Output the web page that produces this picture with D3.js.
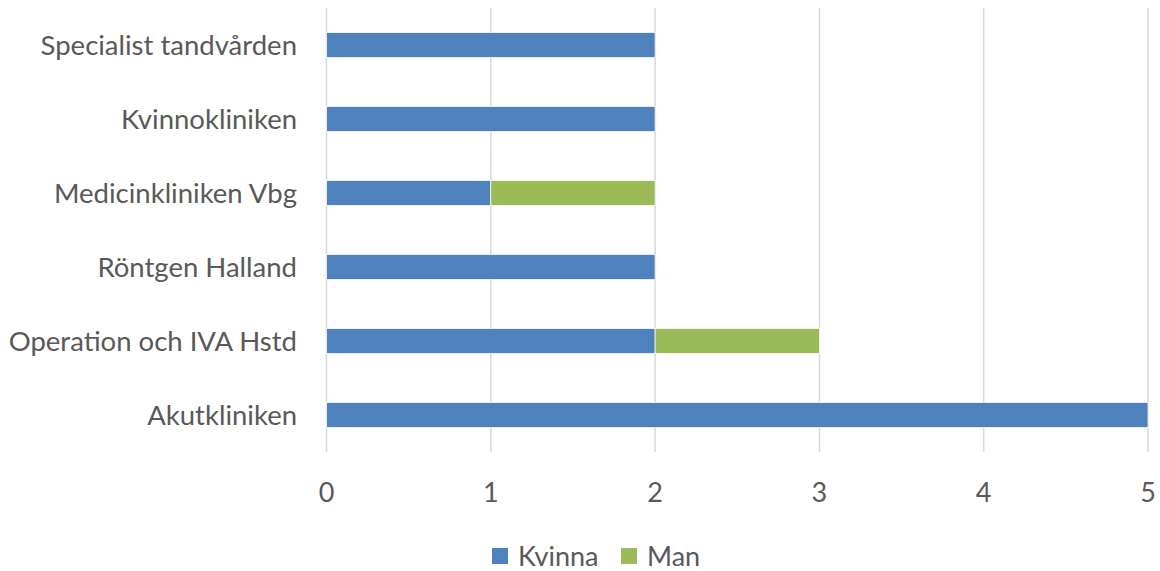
<!DOCTYPE html>
<html>
<head>
<meta charset="utf-8">
<script src="https://cdn.jsdelivr.net/npm/d3@7"></script>
<style>
  body { margin: 0; background: #fff; }
  svg text { font-family: Lato, "Open Sans", sans-serif; fill: #595959; }
</style>
</head>
<body>
<svg id="chart" width="1160" height="571"></svg>
<script>
const categories = ["Specialist tandvården", "Kvinnokliniken", "Medicinkliniken Vbg",
                    "Röntgen Halland", "Operation och IVA Hstd", "Akutkliniken"];
const kvinna = [2, 2, 1, 2, 2, 5];
const man = [0, 0, 1, 0, 1, 0];
const seriesNames = ["Kvinna", "Man"];
const seriesColors = ["#4F81BD", "#9BBB59"];
const xTicks = [0, 1, 2, 3, 4, 5];

const svg = d3.select("#chart");

const x = d3.scaleLinear().domain([0, 5]).range([326.5, 1148]);
const y = d3.scaleBand().domain(categories).range([8, 452]).paddingInner(0.66).paddingOuter(0.33);

// gridlines
svg.append("g")
    .selectAll("line")
    .data(xTicks)
    .enter().append("line")
    .attr("x1", d => x(d))
    .attr("x2", d => x(d))
    .attr("y1", 8)
    .attr("y2", 452)
    .style("stroke", "#d9d9d9")
    .style("stroke-width", "1.5px");

const rows = categories.map((c, i) => ({ cat: c, Kvinna: kvinna[i], Man: man[i] }));
const stacked = d3.stack().keys(seriesNames)(rows);

svg.append("g")
    .selectAll("g")
    .data(stacked)
    .enter().append("g")
    .style("fill", (d, i) => seriesColors[i])
    .selectAll("rect")
    .data(d => d.filter(p => p[1] > p[0]))
    .enter().append("rect")
    .attr("x", d => x(d[0]))
    .attr("width", d => x(d[1]) - x(d[0]))
    .attr("y", d => y(d.data.cat))
    .attr("height", y.bandwidth())
    .style("stroke", "#fff")
    .style("stroke-width", "0.75px");

// category labels
svg.append("g")
    .selectAll("text")
    .data(categories)
    .enter().append("text")
    .attr("x", 297)
    .attr("y", d => y(d) + y.bandwidth() / 2)
    .attr("dy", "0.36em")
    .attr("text-anchor", "end")
    .style("font-size", "27.5px")
    .text(d => d);

// x tick labels
svg.append("g")
    .selectAll("text")
    .data(xTicks)
    .enter().append("text")
    .attr("x", d => x(d))
    .attr("y", 502)
    .attr("text-anchor", "middle")
    .style("font-size", "27px")
    .text(d => d);

// legend
const legend = svg.append("g");
const legendX = [492, 621];
seriesNames.forEach((name, i) => {
    legend.append("rect")
        .attr("x", legendX[i])
        .attr("y", 548)
        .attr("width", 16)
        .attr("height", 16)
        .style("fill", seriesColors[i]);
    legend.append("text")
        .attr("x", legendX[i] + 26)
        .attr("y", 566)
        .style("font-size", "27px")
        .text(name);
});
</script>
</body>
</html>
